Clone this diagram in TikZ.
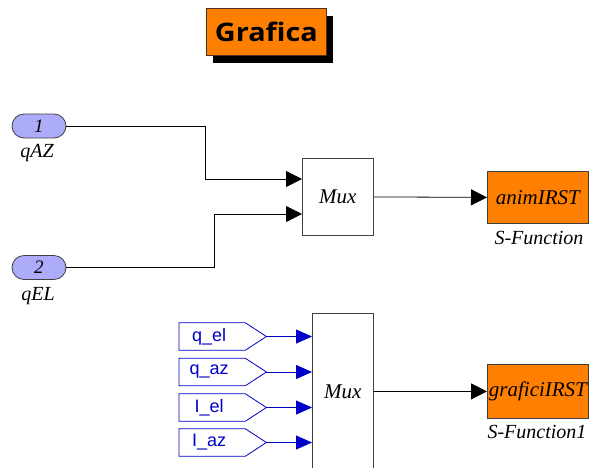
\documentclass[tikz,border=0pt]{standalone}
\usepackage{fontspec}
\setmainfont{Liberation Serif}
\newfontfamily\tagfont{Liberation Sans}
\newfontfamily\titlefont[FakeStretch=1.13]{Open Sans}
\usetikzlibrary{arrows.meta,shapes.misc,shadows,calc}
\definecolor{sforange}{RGB}{255,128,0}
\definecolor{portblue}{RGB}{172,172,250}
\definecolor{tagblue}{RGB}{0,0,200}
\begin{document}
\begin{tikzpicture}[x=1pt,y=-1pt,
  blk/.style={draw=black!75, line width=0.8pt, fill=white, inner sep=0,
    font=\itshape\fontsize{21}{24}\selectfont},
  sfun/.style={blk, fill=sforange},
  inport/.style={rounded rectangle, draw=black!75, line width=0.8pt, fill=portblue,
    minimum width=54, minimum height=24, inner sep=0,
    font=\itshape\fontsize{19}{22}\selectfont},
  lbl/.style={inner sep=0, font=\itshape\fontsize{20}{24}\selectfont},
  tagbox/.style={minimum width=66, minimum height=27, inner sep=0, text=tagblue,
    font=\tagfont\fontsize{18}{20}\selectfont},
  tagshape/.style={draw=tagblue, line width=0.8pt, fill=white},
  wire/.style={draw=black, line width=0.8pt, -{Triangle[length=16pt,width=16pt]}},
  bwire/.style={draw=tagblue, line width=0.8pt, -{Triangle[length=16pt,width=14pt]}},
  titlebox/.style={draw=black!60!brown, line width=0.8pt, fill=sforange, inner sep=0,
    minimum width=120, minimum height=47,
    font=\titlefont\bfseries\fontsize{25.5}{30}\selectfont,
    drop shadow={shadow xshift=7pt, shadow yshift=-8pt, opacity=1, fill=black}}
]
\useasboundingbox (0,0) rectangle (589,467);
\clip (0,0) rectangle (589,467);

% title
\node[titlebox, anchor=north west] (title) at (206,8) {Grafica};

% inports
\node[inport] (in1) at (39,126) {1};
\node[lbl] (lqaz) at (37,153) {qAZ};
\node[inport] (in2) at (39,267.5) {2};
\node[lbl] (lqel) at (38,296) {qEL};

% mux 1 and animation S-function
\node[blk, anchor=north west, minimum width=71, minimum height=77] (mux1) at (302,158) {Mux};
\coordinate (mux1a) at (302,179);
\coordinate (mux1b) at (302,214);
\node[sfun, anchor=north west, minimum width=101, minimum height=52] (anim) at (487,171) {animIRST};
\node[lbl] (lanim) at (539,238) {S-Function};

\draw[wire] (in1.east) -| (205,179) -- (mux1a);
\draw[wire] (in2.east) -| (214,214) -- (mux1b);
\draw[wire] (mux1.east) -- (anim.west);

% mux 2 and plotting S-function
\node[blk, anchor=north west, minimum width=61, minimum height=156] (mux2) at (312,313) {Mux};
\node[sfun, anchor=north west, minimum width=101, minimum height=54] (graf) at (487,364) {graficiIRST};
\node[lbl] (lgraf) at (537,432) {S-Function1};
\draw[wire] (mux2.east) -- (graf.west);

% goto/from tags
\foreach \n/\t/\yy in {tqel/q\_el/336.5, tqaz/q\_az/372, tiel/I\_el/407.5, tiaz/I\_az/442.5}{
  \node[tagbox, anchor=west] (\n) at (179,\yy) {};
  \draw[tagshape] (\n.north west) -- (\n.north east) -- ($(\n.east)+(21,0)$) -- (\n.south east) -- (\n.south west) -- cycle;
  \node[tagbox] at ($(\n)+(-3,0)$) {\t};
  \coordinate (\n tip) at ($(\n.east)+(21,0)$);
  \draw[bwire] (\n tip) -- (\n -| mux2.west);
}
\end{tikzpicture}
\end{document}
